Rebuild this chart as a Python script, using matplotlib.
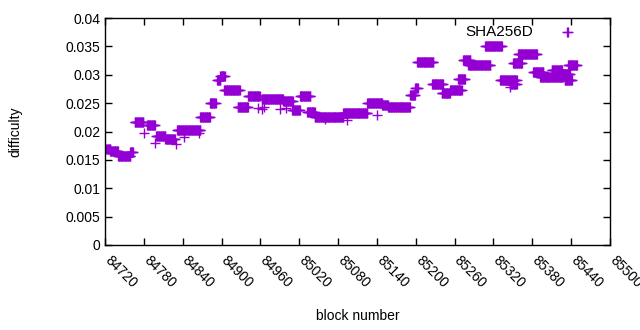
import matplotlib
matplotlib.use("Agg")
import matplotlib.pyplot as plt
import matplotlib.transforms as mtransforms
import numpy as np

plt.rcParams['font.family'] = ['Liberation Sans', 'DejaVu Sans']

# Difficulty levels: (first block, last block, difficulty)
seg_start = [84722, 84728, 84740, 84759, 84766, 84785, 84799, 84813, 84831, 84867,
             84882, 84893, 84898, 84904, 84925, 84941, 84962, 84995, 85009, 85021,
             85032, 85044, 85088, 85125, 85148, 85157, 85191, 85199, 85202, 85225,
             85240, 85253, 85265, 85273, 85281, 85307, 85330, 85345, 85350, 85358,
             85381, 85392, 85410, 85426, 85430, 85435]
seg_end = [84728, 84740, 84759, 84763, 84779, 84797, 84813, 84828, 84867, 84882,
           84891, 84898, 84905, 84928, 84941, 84959, 84995, 85010, 85021, 85037,
           85044, 85088, 85125, 85148, 85157, 85191, 85199, 85203, 85227, 85242,
           85253, 85271, 85276, 85284, 85315, 85333, 85356, 85356, 85364, 85387,
           85397, 85427, 85426, 85438, 85441, 85449]
seg_value = [0.0170, 0.0166, 0.0157, 0.0163, 0.0217, 0.0212, 0.0192, 0.0186, 0.0202, 0.0226,
             0.0250, 0.0290, 0.0298, 0.0273, 0.0244, 0.0263, 0.0258, 0.0253, 0.0238, 0.0262,
             0.0235, 0.0226, 0.0232, 0.0250, 0.0246, 0.0243, 0.0265, 0.0277, 0.0322, 0.0283,
             0.0268, 0.0273, 0.0293, 0.0326, 0.0317, 0.0350, 0.0290, 0.0284, 0.0320, 0.0336,
             0.0305, 0.0296, 0.0308, 0.0301, 0.0291, 0.0317]

# Isolated points
out_block = [84780, 84797, 84830, 84842, 84865, 84957, 84962, 84966, 84990, 85000,
             85060, 85094, 85140, 85345, 85435]
out_value = [0.0197, 0.0180, 0.0178, 0.0190, 0.0197, 0.0242, 0.0240, 0.0244, 0.0240, 0.0241,
             0.0222, 0.0220, 0.0229, 0.0278, 0.0375]

xticks = list(range(84720, 85501, 60))
yticks = [0, 0.005, 0.01, 0.015, 0.02, 0.025, 0.03, 0.035, 0.04]
ytick_labels = ["0", "0.005", "0.01", "0.015", "0.02", "0.025", "0.03", "0.035", "0.04"]

bx, by = [], []
for s, e, v in zip(seg_start, seg_end, seg_value):
    for b in range(s, e + 1):
        bx.append(b)
        by.append(v)
bx += out_block
by += out_value

color = '#9400d3'
fig = plt.figure(figsize=(6.4, 3.3), dpi=100)
ax = fig.add_axes([105/640, 1-245/330, 505/640, 227/330])
ax.plot(bx, by, linestyle='none', marker='+', color=color, markersize=6.5, markeredgewidth=1)

ax.set_xlim(84720, 85500)
ax.set_ylim(0, 0.04)
ax.set_xticks(xticks)
ax.set_xticklabels([])
offset = mtransforms.ScaledTranslation(2/100, -13/100, fig.dpi_scale_trans)
for t in xticks:
    ax.text(t, 0, str(t), transform=ax.get_xaxis_transform() + offset,
            rotation=-45, rotation_mode='anchor', ha='left', va='center',
            fontsize=10, family=['Liberation Sans Narrow', 'Liberation Sans'],
            clip_on=False)
ax.set_yticks(yticks)
ax.set_yticklabels(ytick_labels, fontsize=10)
ax.tick_params(direction='in', length=5, top=True, right=True, width=1)
for sp in ax.spines.values():
    sp.set_linewidth(1)
ax.set_xlabel('block number', fontsize=10)
ax.set_ylabel('difficulty', fontsize=10)
ax.xaxis.set_label_coords(0.5, -0.283)
ax.yaxis.set_label_coords(-0.164, 0.5)

ax.text(0.848, 0.938, 'SHA256D', transform=ax.transAxes, ha='right', va='center', fontsize=11)
ax.plot([0.915], [0.938], transform=ax.transAxes, marker='+', color=color,
        markersize=6.5, markeredgewidth=1, linestyle='none')

fig.savefig('out.png', dpi=100)
